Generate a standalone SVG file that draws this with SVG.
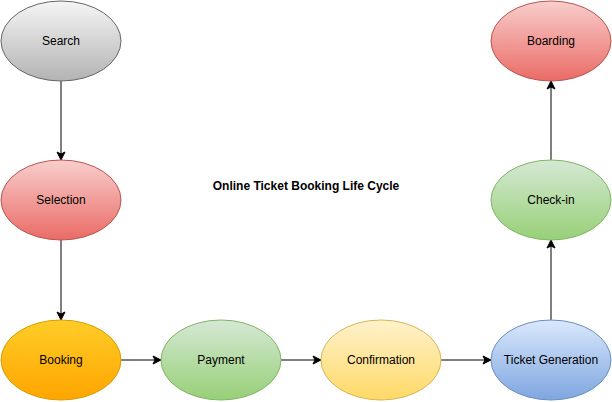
<svg xmlns="http://www.w3.org/2000/svg" width="612" height="402" viewBox="0 0 612 402">
<style>
text{font-family:"Liberation Sans",Arial,sans-serif;font-size:12px;fill:#000;text-anchor:middle;dominant-baseline:central}
.title{font-weight:bold}
.edge{stroke:#000;stroke-width:1;fill:none;marker-end:url(#arr)}
</style>
<defs>
<marker id="arr" viewBox="0 0 10 10" refX="9" refY="5" markerWidth="10" markerHeight="10" markerUnits="userSpaceOnUse" orient="auto">
<path d="M1,1 L9,5 L1,9 L3,5 Z" fill="#000" stroke="#000" stroke-width="1"/>
</marker>
<linearGradient id="gGray" x1="0" y1="0" x2="0" y2="1"><stop offset="0" stop-color="#f5f5f5"/><stop offset="1" stop-color="#b3b3b3"/></linearGradient>
<linearGradient id="gRed" x1="0" y1="0" x2="0" y2="1"><stop offset="0" stop-color="#f8cecc"/><stop offset="1" stop-color="#ea6b66"/></linearGradient>
<linearGradient id="gOrange" x1="0" y1="0" x2="0" y2="1"><stop offset="0" stop-color="#ffcd28"/><stop offset="1" stop-color="#ffa500"/></linearGradient>
<linearGradient id="gGreen" x1="0" y1="0" x2="0" y2="1"><stop offset="0" stop-color="#d5e8d4"/><stop offset="1" stop-color="#97d077"/></linearGradient>
<linearGradient id="gYellow" x1="0" y1="0" x2="0" y2="1"><stop offset="0" stop-color="#fff2cc"/><stop offset="1" stop-color="#ffd966"/></linearGradient>
<linearGradient id="gBlue" x1="0" y1="0" x2="0" y2="1"><stop offset="0" stop-color="#dae8fc"/><stop offset="1" stop-color="#7ea6e0"/></linearGradient>
</defs>
<g id="connectors">
<line class="edge" x1="61" y1="81" x2="61" y2="160"/>
<line class="edge" x1="61" y1="240" x2="61" y2="320"/>
<line class="edge" x1="121" y1="360" x2="161" y2="360"/>
<line class="edge" x1="281" y1="360" x2="321" y2="360"/>
<line class="edge" x1="441" y1="360" x2="491" y2="360"/>
<line class="edge" x1="551" y1="320" x2="551" y2="240"/>
<line class="edge" x1="551" y1="160" x2="551" y2="81"/>
</g>
<g id="search"><ellipse cx="61" cy="41" rx="60" ry="40" fill="url(#gGray)" stroke="#666666"/><text x="61" y="41">Search</text></g>
<g id="selection"><ellipse cx="61" cy="200" rx="60" ry="40" fill="url(#gRed)" stroke="#b85450"/><text x="61" y="200">Selection</text></g>
<g id="booking"><ellipse cx="61" cy="360" rx="60" ry="40" fill="url(#gOrange)" stroke="#d79b00"/><text x="61" y="360">Booking</text></g>
<g id="payment"><ellipse cx="221" cy="360" rx="60" ry="40" fill="url(#gGreen)" stroke="#82b366"/><text x="221" y="360">Payment</text></g>
<g id="confirmation"><ellipse cx="381" cy="360" rx="60" ry="40" fill="url(#gYellow)" stroke="#d6b656"/><text x="381" y="360">Confirmation</text></g>
<g id="ticket-generation"><ellipse cx="551" cy="360" rx="60" ry="40" fill="url(#gBlue)" stroke="#6c8ebf"/><text x="551" y="360">Ticket Generation</text></g>
<g id="check-in"><ellipse cx="551" cy="200" rx="60" ry="40" fill="url(#gGreen)" stroke="#82b366"/><text x="551" y="200">Check-in</text></g>
<g id="boarding"><ellipse cx="551" cy="41" rx="60" ry="40" fill="url(#gRed)" stroke="#b85450"/><text x="551" y="41">Boarding</text></g>
<g id="title"><text class="title" x="306" y="186">Online Ticket Booking Life Cycle</text></g>
</svg>
